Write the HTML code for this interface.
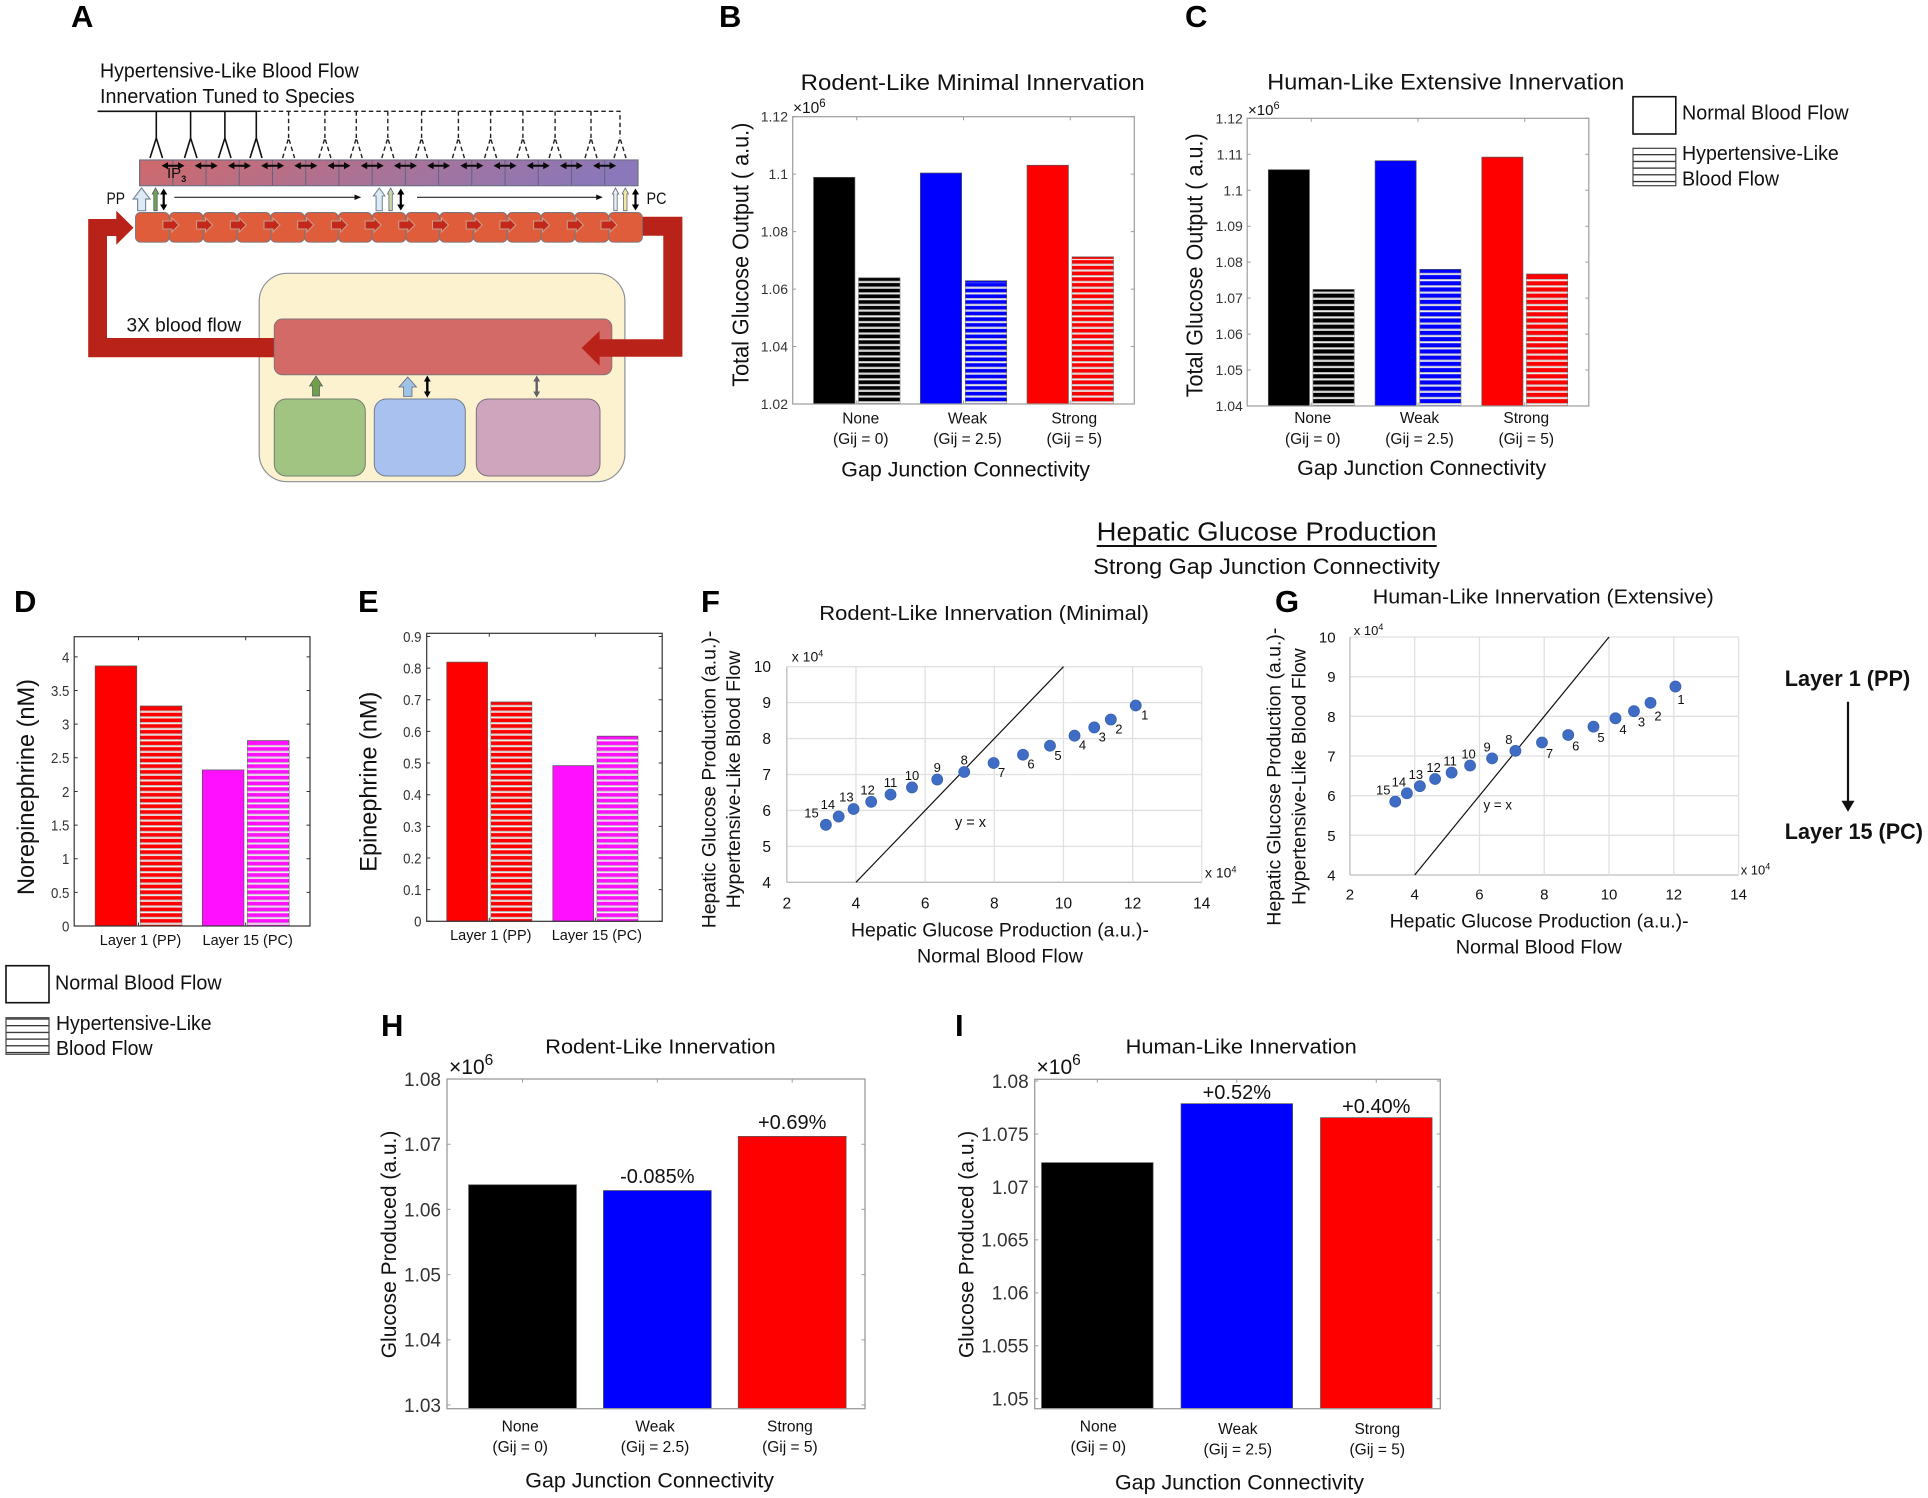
<!DOCTYPE html>
<html lang="en">
<head>
<meta charset="utf-8">
<title>Hepatic glucose production figure</title>
<style>
html,body{margin:0;padding:0;background:#fff;}
#figure{display:block;width:1928px;height:1498px;background:#fff;}
text{font-family:"Liberation Sans",sans-serif;fill:#111;}
.letter{font-weight:700;font-size:31px;fill:#000;}
.title{font-size:22.5px;}
</style>
</head>
<body>
<svg id="figure" xmlns="http://www.w3.org/2000/svg" width="1928" height="1498" viewBox="0 0 1928 1498">
<defs>
<linearGradient id="band-gradient" x1="0" x2="1" y1="0" y2="0.1"><stop offset="0" stop-color="#d0696b"/><stop offset="0.5" stop-color="#ab7295"/><stop offset="1" stop-color="#8a78bb"/></linearGradient>
<pattern id="hatch-57" patternUnits="userSpaceOnUse" width="8" height="5.73"><rect y="0" width="8" height="0.9" fill="#bdbdbd"/><rect y="0.9" width="8" height="1.3" fill="#f4f4f4"/></pattern>
<pattern id="hatch-62" patternUnits="userSpaceOnUse" width="8" height="6.2"><rect y="0" width="8" height="0.9" fill="#bdbdbd"/><rect y="0.9" width="8" height="1.3" fill="#f4f4f4"/></pattern>
<pattern id="legend-hatch" patternUnits="userSpaceOnUse" width="8" height="6.7"><rect y="0" width="8" height="1.2" fill="#222"/></pattern>
</defs>

<g>
<text class="letter" x="71" y="27">A</text>
<text class="letter" x="719" y="27">B</text>
<text class="letter" x="1185" y="27">C</text>
<text class="letter" x="14" y="612">D</text>
<text class="letter" x="358" y="612">E</text>
<text class="letter" x="701" y="612">F</text>
<text class="letter" x="1275" y="612">G</text>
<text class="letter" x="381" y="1036">H</text>
<text class="letter" x="955" y="1036">I</text>
</g>

<g id="panel-a">
<text x="100" y="77.3" font-size="20" textLength="258.8" lengthAdjust="spacingAndGlyphs">Hypertensive-Like Blood Flow</text>
<text x="100" y="103" font-size="20" textLength="254.7" lengthAdjust="spacingAndGlyphs">Innervation Tuned to Species</text>
<path fill="none" stroke="#111" stroke-width="1.6" d="M97.6 111.3H256.3V138M156.3 111.3V138M150 158L156.3 138L162.5 158M190.6 111.3V138M184.5 158L190.6 138L197 158M224.9 111.3V138M218.5 158L224.9 138L231 158M250 158L256.3 138L262 158"/>
<path fill="none" stroke="#222" stroke-width="1.4" stroke-dasharray="4.5 3" d="M256.3 111.3H620V138M288.6 111.3V138M282.6 158L288.6 138L294.6 158M324.9 111.3V138M318.9 158L324.9 138L330.9 158M356.3 111.3V138M350.3 158L356.3 138L362.3 158M387.8 111.3V138M381.8 158L387.8 138L393.8 158M421.6 111.3V138M415.6 158L421.6 138L427.6 158M458.4 111.3V138M452.4 158L458.4 138L464.4 158M490.6 111.3V138M484.6 158L490.6 138L496.6 158M522.9 111.3V138M516.9 158L522.9 138L528.9 158M555.1 111.3V138M549.1 158L555.1 138L561.1 158M591 111.3V138M585 158L591 138L597 158M614 158L620 138L626 158"/>
<rect id="hepatocyte-band" x="139.6" y="160" width="498.4" height="25.7" fill="url(#band-gradient)" stroke="#6e7186" stroke-width="1.2"/>
<g id="band-details"></g>
<text x="167" y="178" font-size="15">IP<tspan font-size="9" dy="4" font-weight="700">3</tspan></text>
<text x="106.5" y="204" font-size="17" textLength="18.5" lengthAdjust="spacingAndGlyphs">PP</text>
<text x="646.5" y="204" font-size="17" textLength="20" lengthAdjust="spacingAndGlyphs">PC</text>
<g>
<polygon points="141.6,188 150,199 145.6,199 145.6,210.7 137.6,210.7 137.6,199 133.2,199" fill="#deebf7" stroke="#7a8a9a" stroke-width="1.2"/>
<polygon points="155.5,188 158.8,194 157.2,194 157.2,210.7 153.8,210.7 153.8,194 152.2,194" fill="#6fa84f" stroke="#556" stroke-width="0.8"/>
<path d="M163.7 188.5l-3.6 6h2.5v10h-2.5l3.6 6l3.6-6h-2.5v-10h2.5z" fill="#000"/>
<path d="M174.3 197.3H356" stroke="#222" stroke-width="1.2" fill="none"/>
<polygon points="361.2,197.3 354.5,194.5 354.5,200" fill="#111"/>
<polygon points="379.2,188 385,196 382.3,196 382.3,210.7 376.1,210.7 376.1,196 373.4,196" fill="#deebf7" stroke="#7a8a9a" stroke-width="1.1"/>
<polygon points="390.6,188 393.8,194 392.3,194 392.3,210.7 388.9,210.7 388.9,194 387.4,194" fill="#c7dba6" stroke="#667" stroke-width="0.8"/>
<path d="M400.8 188.5l-3.6 6h2.5v10h-2.5l3.6 6l3.6-6h-2.5v-10h2.5z" fill="#000"/>
<path d="M417 197.3H598" stroke="#222" stroke-width="1.2" fill="none"/>
<polygon points="602.9,197.3 596.2,194.5 596.2,200" fill="#111"/>
<polygon points="615.5,188 618.7,194 617.2,194 617.2,210.7 613.8,210.7 613.8,194 612.3,194" fill="#e8eff8" stroke="#667" stroke-width="0.8"/>
<polygon points="625.3,188 628.5,194 627,194 627,210.7 623.6,210.7 623.6,194 622.1,194" fill="#f3e9a6" stroke="#667" stroke-width="0.8"/>
<path d="M635.5 188.5l-3.6 6h2.5v10h-2.5l3.6 6l3.6-6h-2.5v-10h2.5z" fill="#000"/>
</g>
<rect x="259.2" y="273.3" width="365.7" height="208.4" rx="28" fill="#fdf2cf" stroke="#8b9099" stroke-width="1.2"/>
<polygon fill="#b82218" points="274.3,338 107,338 107,236 116.3,236 116.3,244.7 133.5,227.7 116.3,210.7 116.3,219 88.2,219 88.2,357.3 274.3,357.3"/>
<rect x="274.3" y="319" width="337.5" height="55.7" rx="8" fill="#d46a68" stroke="#80747a" stroke-width="1"/>
<polygon fill="#b82218" points="640,216.7 682.4,216.7 682.4,356.7 599.6,356.7 599.6,365.7 581.6,348 599.6,331 599.6,339.3 663.3,339.3 663.3,235.7 640,235.7"/>
<g id="chain-cells"></g>
<text x="126.5" y="331.7" font-size="19" textLength="114.7" lengthAdjust="spacingAndGlyphs">3X blood flow</text>
<rect x="274.3" y="399" width="91" height="77" rx="12" fill="#a2c482" stroke="#6f7f70" stroke-width="1"/>
<rect x="374.3" y="399" width="91" height="77" rx="12" fill="#a9c1ee" stroke="#6f7f90" stroke-width="1"/>
<rect x="476.3" y="399" width="123.7" height="77" rx="12" fill="#cfa5bd" stroke="#7f7080" stroke-width="1"/>
<polygon points="316,376 322.5,386 319.5,386 319.5,396 312.5,396 312.5,386 309.5,386" fill="#6e9f4b" stroke="#556" stroke-width="0.7"/>
<polygon points="407.8,377 416.5,387 412,387 412,396.5 403.6,396.5 403.6,387 399,387" fill="#9ec3e8" stroke="#667" stroke-width="0.8"/>
<path d="M427.3 375.5l-3.4 6h2.2v10h-2.2l3.4 6l3.4-6h-2.2v-10h2.2z" fill="#000"/>
<path d="M536.7 375.5l-3.4 6h2.2v10h-2.2l3.4 6l3.4-6h-2.2v-10h2.2z" fill="#5f6068"/>
</g>

<g>
<text class="title" x="800.7" y="90" textLength="344" lengthAdjust="spacingAndGlyphs">Rodent-Like Minimal Innervation</text>
<text x="748.3" y="386.7" font-size="23.5" textLength="264" lengthAdjust="spacingAndGlyphs" transform="rotate(-90 748.3 386.7)" fill="#222">Total Glucose Output ( a.u.)</text>
<text x="841.3" y="476.7" font-size="21" textLength="248.7" lengthAdjust="spacingAndGlyphs">Gap Junction Connectivity</text>
<text x="793" y="113" font-size="15.5" fill="#333">×10<tspan font-size="11.5" dy="-6">6</tspan></text>
</g>
<g>
<text class="title" x="1267.3" y="89.3" textLength="357" lengthAdjust="spacingAndGlyphs">Human-Like Extensive Innervation</text>
<text x="1202.5" y="397.3" font-size="23.5" textLength="264" lengthAdjust="spacingAndGlyphs" transform="rotate(-90 1202.5 397.3)" fill="#222">Total Glucose Output ( a.u.)</text>
<text x="1297.2" y="475" font-size="21" textLength="249" lengthAdjust="spacingAndGlyphs">Gap Junction Connectivity</text>
<text x="1248" y="115" font-size="15" fill="#333">×10<tspan font-size="11" dy="-6">6</tspan></text>
</g>
<g>
<rect x="1633" y="96.7" width="42.8" height="37.3" fill="#fff" stroke="#111" stroke-width="1.6"/>
<text x="1682" y="119.3" font-size="20" textLength="166.6" lengthAdjust="spacingAndGlyphs">Normal Blood Flow</text>
<rect x="1633" y="148.3" width="42.8" height="37.4" fill="#fff"/>
<rect x="1633" y="148.3" width="42.8" height="37.4" fill="url(#legend-hatch)" stroke="#444" stroke-width="1.2"/>
<text x="1682" y="160" font-size="20" textLength="156.8" lengthAdjust="spacingAndGlyphs">Hypertensive-Like</text>
<text x="1682" y="185.3" font-size="20" textLength="97" lengthAdjust="spacingAndGlyphs">Blood Flow</text>
</g>

<g>
<text x="1096.7" y="540.7" font-size="26" textLength="340" lengthAdjust="spacingAndGlyphs">Hepatic Glucose Production</text>
<rect x="1096.7" y="545" width="340" height="2" fill="#111"/>
<text x="1093.3" y="574" font-size="22.5" textLength="346.7" lengthAdjust="spacingAndGlyphs">Strong Gap Junction Connectivity</text>
</g>

<g>
<text x="33.8" y="895" font-size="24" textLength="216" lengthAdjust="spacingAndGlyphs" transform="rotate(-90 33.8 895)" fill="#222">Norepinephrine (nM)</text>
</g>
<g>
<text x="376.5" y="871.7" font-size="24.5" textLength="180" lengthAdjust="spacingAndGlyphs" transform="rotate(-90 376.5 871.7)" fill="#222">Epinephrine (nM)</text>
</g>
<g>
<rect x="6" y="965.7" width="43" height="37" fill="#fff" stroke="#111" stroke-width="1.6"/>
<text x="55" y="989.3" font-size="20" textLength="166.6" lengthAdjust="spacingAndGlyphs">Normal Blood Flow</text>
<rect x="6" y="1017.7" width="43" height="36.6" fill="url(#legend-hatch)" stroke="#444" stroke-width="1.2"/>
<text x="56" y="1030" font-size="20" textLength="155.6" lengthAdjust="spacingAndGlyphs">Hypertensive-Like</text>
<text x="56" y="1055" font-size="20" textLength="96.6" lengthAdjust="spacingAndGlyphs">Blood Flow</text>
</g>

<g>
<text x="819.3" y="620" font-size="20" textLength="329.7" lengthAdjust="spacingAndGlyphs">Rodent-Like Innervation (Minimal)</text>
<text x="715.7" y="928.3" font-size="19.5" textLength="297.6" lengthAdjust="spacingAndGlyphs" transform="rotate(-90 715.7 928.3)">Hepatic Glucose Production (a.u.)-</text>
<text x="740" y="908.3" font-size="19.5" textLength="257.6" lengthAdjust="spacingAndGlyphs" transform="rotate(-90 740 908.3)">Hypertensive-Like Blood Flow</text>
<text x="851" y="936.7" font-size="19.5" textLength="298" lengthAdjust="spacingAndGlyphs">Hepatic Glucose Production (a.u.)-</text>
<text x="917" y="962.3" font-size="19.5" textLength="165.9" lengthAdjust="spacingAndGlyphs">Normal Blood Flow</text>
<text x="791.8" y="661.7" font-size="14">x 10<tspan font-size="9" dy="-5">4</tspan></text>
<text x="1205" y="877.7" font-size="14">x 10<tspan font-size="9" dy="-5">4</tspan></text>
<text x="955" y="827" font-size="15" textLength="31" lengthAdjust="spacingAndGlyphs">y = x</text>
</g>
<g>
<text x="1372.8" y="603.3" font-size="20" textLength="341" lengthAdjust="spacingAndGlyphs">Human-Like Innervation (Extensive)</text>
<text x="1280.3" y="925.7" font-size="19.5" textLength="298" lengthAdjust="spacingAndGlyphs" transform="rotate(-90 1280.3 925.7)">Hepatic Glucose Production (a.u.)-</text>
<text x="1305.3" y="905" font-size="19.5" textLength="256.7" lengthAdjust="spacingAndGlyphs" transform="rotate(-90 1305.3 905)">Hypertensive-Like Blood Flow</text>
<text x="1389.6" y="927.3" font-size="19.5" textLength="299" lengthAdjust="spacingAndGlyphs">Hepatic Glucose Production (a.u.)-</text>
<text x="1455.8" y="953.3" font-size="19.5" textLength="166" lengthAdjust="spacingAndGlyphs">Normal Blood Flow</text>
<text x="1353.8" y="635" font-size="13">x 10<tspan font-size="9" dy="-5">4</tspan></text>
<text x="1740.7" y="874.7" font-size="13">x 10<tspan font-size="9" dy="-5">4</tspan></text>
<text x="1483.5" y="809.3" font-size="14" textLength="28.5" lengthAdjust="spacingAndGlyphs">y = x</text>
</g>
<g>
<text x="1784.8" y="686" font-size="22" font-weight="700" textLength="125.4" lengthAdjust="spacingAndGlyphs" fill="#000">Layer 1 (PP)</text>
<rect x="1846.9" y="701.7" width="2.2" height="100" fill="#111"/>
<polygon points="1841.5,800.7 1854.5,800.7 1848,811.7" fill="#111"/>
<text x="1784.8" y="839" font-size="22" font-weight="700" textLength="138.2" lengthAdjust="spacingAndGlyphs" fill="#000">Layer 15 (PC)</text>
</g>

<g>
<text x="545.3" y="1053.3" font-size="20" textLength="230.4" lengthAdjust="spacingAndGlyphs">Rodent-Like Innervation</text>
<text x="396" y="1358.3" font-size="21.5" textLength="227.7" lengthAdjust="spacingAndGlyphs" transform="rotate(-90 396 1358.3)" fill="#222">Glucose Produced (a.u.)</text>
<text x="525.3" y="1487.7" font-size="21" textLength="248.7" lengthAdjust="spacingAndGlyphs">Gap Junction Connectivity</text>
<text x="449" y="1074" font-size="21" fill="#333">×10<tspan font-size="15.5" dy="-9">6</tspan></text>
</g>
<g>
<text x="1125.7" y="1053.3" font-size="20" textLength="231" lengthAdjust="spacingAndGlyphs">Human-Like Innervation</text>
<text x="973.3" y="1358" font-size="21.5" textLength="227.3" lengthAdjust="spacingAndGlyphs" transform="rotate(-90 973.3 1358)" fill="#222">Glucose Produced (a.u.)</text>
<text x="1115" y="1489.3" font-size="21" textLength="249" lengthAdjust="spacingAndGlyphs">Gap Junction Connectivity</text>
<text x="1036.5" y="1074" font-size="21" fill="#333">×10<tspan font-size="15.5" dy="-9">6</tspan></text>
</g>

<g id="charts"></g>
</svg>

<script>
// ---- Panel B: rodent-like minimal innervation ----
const bCategories = [["None", "(Gij = 0)"], ["Weak", "(Gij = 2.5)"], ["Strong", "(Gij = 5)"]];
const bNormal = [1.0989, 1.1004, 1.1031];
const bHypertensive = [1.0639, 1.0629, 1.0712];
const bTicks = ["1.02", "1.04", "1.06", "1.08", "1.1", "1.12"];

// ---- Panel C: human-like extensive innervation ----
const cCategories = [["None", "(Gij = 0)"], ["Weak", "(Gij = 2.5)"], ["Strong", "(Gij = 5)"]];
const cNormal = [1.1057, 1.1082, 1.1092];
const cHypertensive = [1.0724, 1.0780, 1.0767];
const cTicks = ["1.04", "1.05", "1.06", "1.07", "1.08", "1.09", "1.1", "1.11", "1.12"];

// ---- Panel D: norepinephrine ----
const dCategories = [["Layer 1 (PP)"], ["Layer 15 (PC)"]];
const dNormal = [3.866, 2.32];
const dHypertensive = [3.27, 2.756];
const dTicks = ["0", "0.5", "1", "1.5", "2", "2.5", "3", "3.5", "4"];

// ---- Panel E: epinephrine ----
const eCategories = [["Layer 1 (PP)"], ["Layer 15 (PC)"]];
const eNormal = [0.819, 0.492];
const eHypertensive = [0.693, 0.585];
const eTicks = ["0", "0.1", "0.2", "0.3", "0.4", "0.5", "0.6", "0.7", "0.8", "0.9"];

// ---- Panel F: rodent-like scatter, layers 1..15 ----
const fLayers = [1, 2, 3, 4, 5, 6, 7, 8, 9, 10, 11, 12, 13, 14, 15];
const fNormalFlow = [12.09, 11.37, 10.89, 10.32, 9.61, 8.83, 7.98, 7.13, 6.35, 5.62, 5.0, 4.44, 3.93, 3.50, 3.13];
const fHypertensiveFlow = [8.92, 8.53, 8.31, 8.08, 7.80, 7.55, 7.32, 7.07, 6.86, 6.64, 6.44, 6.24, 6.04, 5.83, 5.60];
const fXTicks = ["2", "4", "6", "8", "10", "12", "14"];
const fYTicks = ["4", "5", "6", "7", "8", "9", "10"];

// ---- Panel G: human-like scatter, layers 1..15 ----
const gLayers = [1, 2, 3, 4, 5, 6, 7, 8, 9, 10, 11, 12, 13, 14, 15];
const gNormalFlow = [12.05, 11.28, 10.77, 10.2, 9.52, 8.74, 7.93, 7.11, 6.39, 5.71, 5.14, 4.63, 4.16, 3.76, 3.40];
const gHypertensiveFlow = [8.75, 8.34, 8.13, 7.95, 7.74, 7.53, 7.34, 7.13, 6.94, 6.76, 6.58, 6.42, 6.24, 6.06, 5.85];
const gXTicks = ["2", "4", "6", "8", "10", "12", "14"];
const gYTicks = ["4", "5", "6", "7", "8", "9", "10"];

// ---- Panel H: rodent-like hypertensive glucose ----
const hCategories = [["None", "(Gij = 0)"], ["Weak", "(Gij = 2.5)"], ["Strong", "(Gij = 5)"]];
const hValues = [1.06378, 1.0629, 1.0712];
const hPercent = ["", "-0.085%", "+0.69%"];
const hTicks = ["1.03", "1.04", "1.05", "1.06", "1.07", "1.08"];

// ---- Panel I: human-like hypertensive glucose ----
const iCategories = [["None", "(Gij = 0)"], ["Weak", "(Gij = 2.5)"], ["Strong", "(Gij = 5)"]];
const iValues = [1.07229, 1.07786, 1.07654];
const iPercent = ["", "+0.52%", "+0.40%"];
const iTicks = ["1.05", "1.055", "1.06", "1.065", "1.07", "1.075", "1.08"];

const connectivityColors = ["#000000", "#0000ff", "#ff0000"];
const layerColors = ["#ff0000", "#ff10ff"];

const SVG_NS = "http://www.w3.org/2000/svg";

function make(tag, parent, attrs) {
  const node = document.createElementNS(SVG_NS, tag);
  for (const key in attrs) node.setAttribute(key, attrs[key]);
  parent.appendChild(node);
  return node;
}

function linearScale(d0, d1, r0, r1) {
  return function (v) { return r0 + (v - d0) / (d1 - d0) * (r1 - r0); };
}

function squeezeText(node, factor) {
  if (factor && factor !== 1) {
    node.setAttribute("textLength", (node.getComputedTextLength() * factor).toFixed(2));
    node.setAttribute("lengthAdjust", "spacingAndGlyphs");
  }
}

function barChart(cfg) {
  const host = document.getElementById("charts");
  const chart = make("g", host, {});
  
  
  const xPos = linearScale(cfg.xLim[0], cfg.xLim[1], cfg.box.l, cfg.box.r);
  const yPos = linearScale(cfg.yLim[0], cfg.yLim[1], cfg.box.b, cfg.box.t);

  cfg.ticks.forEach(function (label) {
    const y = yPos(parseFloat(label));
    const tickPath = make("path", chart, { d: "M" + cfg.box.l + " " + y + "h3.5M" + cfg.box.r + " " + y + "h-3.5", stroke: cfg.frame, "stroke-width": 1, fill: "none" });
    
    
    const tickText = make("text", chart, { x: cfg.tickRight, y: y + cfg.tickSize * 0.36 + (cfg.tickDy || 0), "font-size": cfg.tickSize, "text-anchor": "end", style: "fill:#333" });
    tickText.textContent = label;
    
    
    squeezeText(tickText, cfg.tickSqueeze);
  });

  cfg.categories.forEach(function (lines, i) {
    const center = xPos(i + 1);
    const xTick = make("path", chart, { d: "M" + center + " " + cfg.box.t + "v3.5M" + center + " " + cfg.box.b + "v-3.5", stroke: cfg.frame, "stroke-width": 1, fill: "none" });
    
    
    const total = cfg.series.length * cfg.barWidth + (cfg.series.length - 1) * cfg.barGap;
    cfg.series.forEach(function (values, s) {
      const left = xPos(i + 1 - total / 2 + s * (cfg.barWidth + cfg.barGap));
      const right = xPos(i + 1 - total / 2 + s * (cfg.barWidth + cfg.barGap) + cfg.barWidth);
      const top = yPos(values[i]);
      const bar = make("rect", chart, { x: left, y: top, width: right - left, height: cfg.box.b - top, fill: cfg.colors[i], stroke: "#555", "stroke-width": 0.7 });
      
      
      if (s === 1) {
        const hatch = make("rect", chart, { x: left, y: top + 2, width: right - left, height: cfg.box.b - top - 2, fill: "url(#" + cfg.hatch + ")" });
        
        
      }
    });
    if (cfg.percent && cfg.percent[i]) {
      const pct = make("text", chart, { x: center, y: yPos(cfg.series[0][i]) - cfg.percentGap, "font-size": 20, "text-anchor": "middle" });
      pct.textContent = cfg.percent[i];
      
      
    }
    lines.forEach(function (line, k) {
      const catText = make("text", chart, { x: center + cfg.catDx, y: cfg.catY + (i > 0 ? (cfg.catShift || 0) : 0) + k * cfg.catLine, "font-size": cfg.catSize, "text-anchor": "middle" });
      catText.textContent = line;
      
      
    });
  });

  const frame = make("rect", chart, { x: cfg.box.l, y: cfg.box.t, width: cfg.box.r - cfg.box.l, height: cfg.box.b - cfg.box.t, fill: "none", stroke: cfg.frame, "stroke-width": cfg.frameWidth });
  
  
}

function scatterChart(cfg) {
  const host = document.getElementById("charts");
  const chart = make("g", host, {});
  
  
  const xPos = linearScale(parseFloat(cfg.xTicks[0]), parseFloat(cfg.xTicks[cfg.xTicks.length - 1]), cfg.box.l, cfg.box.r);
  const yPos = linearScale(parseFloat(cfg.yTicks[0]), parseFloat(cfg.yTicks[cfg.yTicks.length - 1]), cfg.box.b, cfg.box.t);

  cfg.yTicks.forEach(function (label) {
    const y = yPos(parseFloat(label));
    const grid = make("line", chart, { x1: cfg.box.l, x2: cfg.box.r, y1: y, y2: y, stroke: label === cfg.yTicks[0] ? "#bdbdbd" : "#e0e0e0", "stroke-width": 1.3 });
    
    
    const tickText = make("text", chart, { x: cfg.tickRight, y: y + 5.5, "font-size": cfg.tickSize, "text-anchor": "end" });
    tickText.textContent = label;
    
    
  });
  cfg.xTicks.forEach(function (label) {
    const x = xPos(parseFloat(label));
    const grid = make("line", chart, { x1: x, x2: x, y1: cfg.box.t, y2: cfg.box.b, stroke: label === cfg.xTicks[0] ? "#bdbdbd" : "#e0e0e0", "stroke-width": 1.3 });
    
    
    const tickText = make("text", chart, { x: x, y: cfg.xTickY, "font-size": cfg.tickSize, "text-anchor": "middle" });
    tickText.textContent = label;
    
    
  });

  const identity = make("line", chart, { x1: xPos(4), y1: yPos(4), x2: xPos(10), y2: yPos(10), stroke: "#111", "stroke-width": 1.2 });
  
  

  cfg.layers.forEach(function (layer, i) {
    const cx = xPos(cfg.xValues[i]);
    const cy = yPos(cfg.yValues[i]);
    const dot = make("circle", chart, { cx: cx, cy: cy, r: 5.5, fill: "#3f6dc5", stroke: "#3863ad", "stroke-width": 0.8 });
    
    
    const off = cfg.labelOffset(layer);
    const num = make("text", chart, { x: cx + off[0], y: cy + off[1] + 4.5, "font-size": 13, "text-anchor": "middle" });
    num.textContent = String(layer);
    
    
  });
}

barChart({ name: "panel-b-bar-chart", box: { l: 792.7, r: 1134.3, t: 116.7, b: 404 }, xLim: [0.4, 3.6], yLim: [1.02, 1.12],
  ticks: bTicks, categories: bCategories, series: [bNormal, bHypertensive], colors: connectivityColors,
  barWidth: 0.387, barGap: 0.035, hatch: "hatch-57", frame: "#9c9c9c", frameWidth: 1.2,
  tickRight: 788, tickSize: 14, catDx: 4, catY: 423.3, catLine: 20.7, catSize: 15.5 });

barChart({ name: "panel-c-bar-chart", box: { l: 1247.2, r: 1588.8, t: 118.3, b: 406 }, xLim: [0.4, 3.6], yLim: [1.04, 1.12],
  ticks: cTicks, categories: cCategories, series: [cNormal, cHypertensive], colors: connectivityColors,
  barWidth: 0.385, barGap: 0.034, hatch: "hatch-62", frame: "#9c9c9c", frameWidth: 1.2,
  tickRight: 1242.8, tickSize: 14, catDx: 1.5, catY: 423, catLine: 21, catSize: 15.5 });

barChart({ name: "panel-d-bar-chart", box: { l: 74.2, r: 310, t: 636.7, b: 926 }, xLim: [0.4, 2.6], yLim: [0, 4.3],
  ticks: dTicks, categories: dCategories, series: [dNormal, dHypertensive], colors: layerColors,
  barWidth: 0.388, barGap: 0.033, hatch: "hatch-57", frame: "#333", frameWidth: 1.2,
  tickRight: 69.4, tickSize: 15, tickSqueeze: 0.88, catDx: 2, catY: 945, catLine: 0, catSize: 14.5 });

barChart({ name: "panel-e-bar-chart", box: { l: 426.7, r: 662.2, t: 633.3, b: 921.3 }, xLim: [0.41, 2.63], yLim: [0, 0.91],
  ticks: eTicks, categories: eCategories, series: [eNormal, eHypertensive], colors: layerColors,
  barWidth: 0.385, barGap: 0.032, hatch: "hatch-57", frame: "#333", frameWidth: 1.2,
  tickRight: 421.5, tickSize: 15, tickSqueeze: 0.88, catDx: 1.5, catY: 940, catLine: 0, catSize: 14.5 });

barChart({ name: "panel-h-bar-chart", box: { l: 447, r: 865, t: 1079, b: 1408.7 }, xLim: [0.44, 3.54], yLim: [1.02944, 1.08],
  ticks: hTicks, categories: hCategories, series: [hValues], colors: connectivityColors, percent: hPercent, percentGap: 7.5,
  barWidth: 0.8, barGap: 0, hatch: "hatch-57", frame: "#9c9c9c", frameWidth: 1.3,
  tickRight: 441, tickSize: 19, catDx: -2.3, catY: 1431.7, catLine: 20.5, catSize: 15.5 });

barChart({ name: "panel-i-bar-chart", box: { l: 1034.7, r: 1440.3, t: 1079.3, b: 1408.7 }, xLim: [0.551, 3.459], yLim: [1.04906, 1.08016],
  ticks: iTicks, categories: iCategories, series: [iValues], colors: connectivityColors, percent: iPercent, percentGap: 4.5,
  barWidth: 0.8, barGap: 0, hatch: "hatch-57", frame: "#9c9c9c", frameWidth: 1.3,
  tickRight: 1028.7, tickSize: 19, catDx: 1, catY: 1431.7, catShift: 2.3, catLine: 20.5, catSize: 15.5 });

scatterChart({ name: "panel-f-scatter-chart", box: { l: 786.8, r: 1201.8, t: 666.7, b: 882.3 },
  xTicks: fXTicks, yTicks: fYTicks, xValues: fNormalFlow, yValues: fHypertensiveFlow, layers: fLayers,
  tickRight: 771, tickSize: 15.5, xTickY: 908.3,
  labelOffset: function (n) {
    if (n <= 7) return [n === 1 ? 9 : 8, 9.5];
    return [n <= 11 ? 0 : -(n - 11) * 3.6, -12];
  } });

scatterChart({ name: "panel-g-scatter-chart", box: { l: 1349.9, r: 1738.6, t: 637, b: 875 },
  xTicks: gXTicks, yTicks: gYTicks, xValues: gNormalFlow, yValues: gHypertensiveFlow, layers: gLayers,
  tickRight: 1335.6, tickSize: 15, xTickY: 899.3,
  labelOffset: function (n) {
    if (n <= 7) return [n === 1 ? 5.6 : 7.5, n <= 2 ? 13 : 11];
    return [n === 8 ? -6.5 : n === 9 ? -5 : n <= 12 ? -1.5 : -(n - 12) * 4, -11.5];
  } });

// Repeated diagram parts for panel A
const bandDetails = document.getElementById("band-details");
for (let c = 1; c < 15; c++) {
  const divider = make("line", bandDetails, { x1: 139.6 + 33.22 * c, x2: 139.6 + 33.22 * c, y1: 160, y2: 185.7, stroke: "#63647e", "stroke-width": 1 });
  
  
  const gx = 173 + 33.2 * (c - 1);
  const junction = make("path", bandDetails, { d: "M" + (gx - 11.5) + " 165.7l6.5-3.6v2.6h10v-2.6l6.5 3.6l-6.5 3.6v-2.6h-10v2.6z", fill: "#0a0a0a" });
  
  
}
const chainCells = document.getElementById("chain-cells");
for (let c = 0; c < 15; c++) {
  const cell = make("rect", chainCells, { x: 135.5 + 33.79 * c, y: 212.5, width: 33.79, height: 29.7, rx: 5, fill: "#e05d3c", stroke: "#75767f", "stroke-width": 0.9 });
  
  
}
for (let c = 0; c < 14; c++) {
  const ax = 162.9 + 33.7 * c;
  const flow = make("polygon", chainCells, { points: ax + ",221 " + (ax + 9) + ",221 " + (ax + 9) + ",218 " + (ax + 16) + ",225 " + (ax + 9) + ",232 " + (ax + 9) + ",229 " + ax + ",229", fill: "#c4281a", stroke: "#c9a08f", "stroke-width": 1 });
  
  
}
</script>
</body>
</html>
